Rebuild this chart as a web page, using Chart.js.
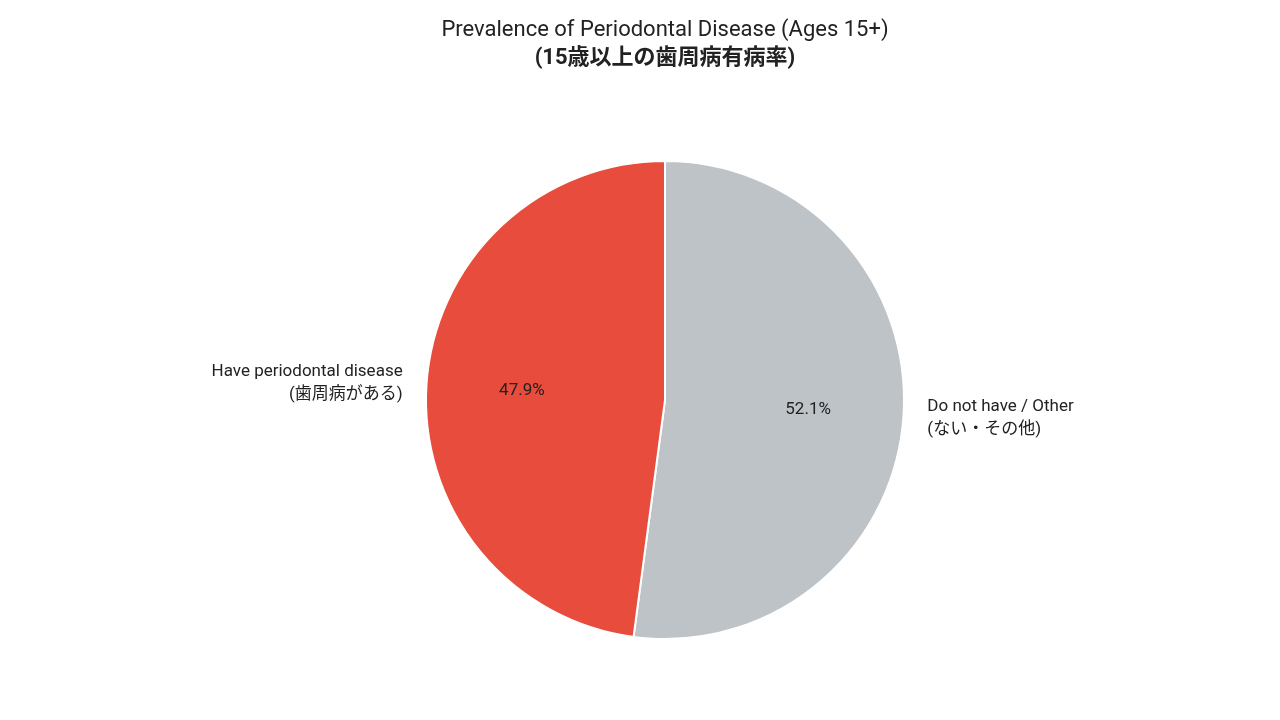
<!DOCTYPE html>
<html>
<head>
<meta charset="utf-8">
<script src="https://cdn.jsdelivr.net/npm/chart.js@4"></script>
<style>
  html, body { margin: 0; background: #fff; }
  #wrap { width: 1280px; height: 720px; }
</style>
</head>
<body>
<div id="wrap"><canvas id="myChart" width="1280" height="720"></canvas></div>
<script>
const labels = ["Do not have / Other", "Have periodontal disease"]
const subLabels = ["(ない・その他)", "(歯周病がある)"]
const values = [52.1, 47.9]
const colors = ["#BDC3C7", "#E74C3C"]
const titleLines = ["Prevalence of Periodontal Disease (Ages 15+)", "(15歳以上の歯周病有病率)"]
const FONT = "Roboto, 'Noto Sans CJK JP', sans-serif"

// draws the title, the % inside and the names outside
const labelPlugin = {
  id: "labelPlugin",
  afterDraw(chart) {
    const ctx = chart.ctx
    ctx.save()
    ctx.fillStyle = "#222"
    ctx.textAlign = "center"
    ctx.textBaseline = "middle"
    ctx.font = "22px " + FONT
    ctx.fillText(titleLines[0], 665, 30)
    ctx.font = "bold 22px " + FONT
    ctx.fillText(titleLines[1], 665, 58)

    chart.getDatasetMeta(0).data.forEach((arc, i) => {
      const mid = (arc.startAngle + arc.endAngle) / 2
      const r = arc.outerRadius
      ctx.font = "17px " + FONT
      ctx.textAlign = "center"
      ctx.fillText(values[i].toFixed(1) + "%", arc.x + Math.cos(mid) * r * 0.6, arc.y + Math.sin(mid) * r * 0.6)

      const lx = arc.x + Math.cos(mid) * r * 1.1
      const ly = arc.y + Math.sin(mid) * r * 1.1
      ctx.textAlign = Math.cos(mid) >= 0 ? "left" : "right"
      ctx.fillText(labels[i], lx, ly - 11)
      ctx.fillText(subLabels[i], lx, ly + 12)
    })
    ctx.restore()
  },
}

new Chart(document.getElementById("myChart"), {
  type: "pie",
  data: {
    labels: labels,
    datasets: [{
      data: values,
      backgroundColor: colors,
      borderColor: "#fff",
      borderWidth: 2,
    }],
  },
  options: {
    responsive: false,
    animation: false,
    layout: { padding: { top: 160, bottom: 80, left: 50, right: 0 } },
    plugins: {
      legend: { display: false },
      tooltip: { enabled: false },
    },
  },
  plugins: [labelPlugin],
})
</script>
</body>
</html>
